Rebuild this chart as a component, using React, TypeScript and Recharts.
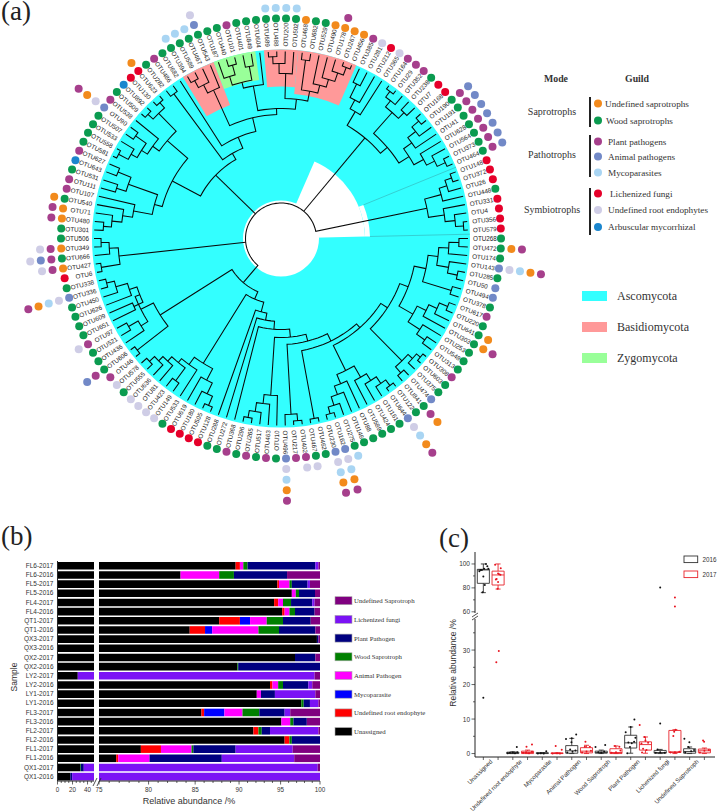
import React from 'react';
import {
  BarChart,
  Bar,
  Pie,
  PieChart,
  Scatter,
  ScatterChart,
  XAxis,
  YAxis,
} from 'recharts';

const SANS = '"Liberation Sans", Arial, sans-serif';
const SERIF = '"Liberation Serif", "Times New Roman", serif';

/* ---------- panel (a): leaves, clockwise from the 3 o'clock position ---------- */
const otuNumbers = [
  268, 472, 174, 143, 285, 50, 494, 378, 617, 220,
  641, 303, 253, 548, 313, 308, 603, 375, 474, 841,
  122, 644, 161, 424, 589, 88, 146, 275, 162, 230,
  462, 467, 402, 217, 496, 10, 463, 517, 265, 296,
  368, 272, 288, 128, 505, 180, 619, 533, 149, 423,
  81, 636, 555, 578, 46, 606, 436, 521, 97, 651,
  609, 626, 450, 336, 338, 6, 427, 666, 349, 506,
  301, 480, 71, 540, 107, 111, 531, 643, 627, 581,
  558, 533, 507, 90, 538, 509, 892, 130, 623, 282,
  486, 682, 394, 589, 467, 543, 187, 440, 101, 401,
  849, 604, 689, 488, 200, 502, 468, 682, 529, 490,
  178, 267, 456, 385, 281, 212, 365, 164, 29, 352,
  238, 7, 168, 190, 191, 41, 628, 564, 373, 464,
  148, 372, 26, 448, 331, 4, 356, 579,
];

// guild rings per leaf, inner to outer
const leafGuilds = [
  'g', 'gop', 'g', 'aumop', 'g', 'a', 'a', 'g', 'p', 'g',
  'go', 'gop', 'g', 'g', 'g', 'p', 'g', 'g', 'a', 'gpo',
  'g', 'aumop', 'g', 'g', 'g', 'g', 'g', 'gm', 'aumop', 'aumop',
  'g', 'gu', 'pu', 'p', 'aumop', 'g', 'p', 'g', 'p', 'g',
  'p', 'g', 'g', 'l', 'l', 'l', 'l', 'g', 'u', 'u',
  'u', 'u', 'g', 'u', 'p', 'gpa', 'g', 'g', 'pu', 'g',
  'g', 'g', 'g', 'aumop', 'g', 'l', 'opu', 'gpau', 'opu', 'g',
  'g', 'op', 'op', 'go', 'p', 'p', 'g', 'b', 'p', 'g',
  'g', 'g', 'g', 'auop', 'p', 'g', 'b', 'l', 'lo', 'g',
  'p', 'g', 'gm', 'gm', 'gm', 'gau', 'g', 'g', 'p', 'g',
  'g', 'g', 'gm', 'gm', 'gm', 'gm', 'o', 'g', 'g', 'o',
  'op', 'o', 'o', 'p', 'u', 'l', 'u', 'p', 'p', 'p',
  'g', 'l', 'l', 'gpa', 'gpa', 'gpa', 'gpa', 'gpa', 'gpa', 'gpa',
  'l', 'l', 'l', 'g', 'l', 'l', 'l', 'l',
];

const guildColors: Record<string, string> = {
  o: '#F28A1C',
  g: '#0B9B50',
  p: '#A63F8C',
  a: '#7289C7',
  m: '#A9D5F3',
  l: '#E6002A',
  u: '#CFCDE6',
  b: '#1B86CE',
};

// tree: [node radius, ...children]; a number is a leaf index
const lichenClade = [149,
  [166, [174, [181, 130, 131], 132], 133],
  [165, 134, [175, 135, [183, 136, 137]]],
];
const upperRightClade = [131,
  [147, [157, [172, 113, 114], 115], 116],
  [140,
    [168, [176, [183, 117, 118], 119], [176, 120, 121]],
    [152, [162, [172, [181, 122, 123], 124], 125], [163, 126, [172, 127, [181, 128, 129]]]],
  ],
];
const pinkA = [163, [172, [180, 92, 93], 94], 95];
const greenClade = [161, [170, 96, [180, 97, 98]], [175, 99, 100]];
const pinkB = [165, [175, [182, 102, 103], 104], 105];
const pinkC = [150, [180, 106, 107], [158, 108, [166, 109, [175, 110, [183, 111, 112]]]]];
const topClade = [124, pinkA, [130, [155, greenClade, 101], [140, pinkB, pinkC]]];
const upperLeftClade = [91,
  [123,
    [150,
      [175, [182, 87, 88], [182, 85, 86]],
      [158, 84, [165, [178, 82, 83], [172, 81, [183, 79, 80]]]],
    ],
    [131,
      [162, [176, 77, 78], [172, 76, 75]],
      [150, 74, [160, 73, [170, 72, [178, 71, 70]]]],
    ],
  ],
  [98, [180, 89, 90], [110, 91, topClade]],
];
const leftClade = [163, [172, [180, 69, 68], 67], [182, 66, 65]];
const lowerLeftClade = [143,
  [157,
    [152, [162, 59, 60], [160, [172, [180, 64, 63], 62], 61]],
    [165, [176, 57, 58], 56],
  ],
  [182, 54, 55],
];
const bottomLeftClade = [147,
  [160, [172, [182, 43, 44], 45], 46],
  [156, 47, [161, [177, 48, 49], [167, 50, [173, 51, [180, 52, 53]]]]],
];
const rightClade = [136,
  [152, [162, [171, [180, 8, 9], 10], 11], [166, 12, [176, 13, 14]]],
  [148,
    [158, [168, [178, 0, 1], 2], [170, 3, [180, 4, 5]]],
    [178, 6, 7],
  ],
];
const backbone = [66, bottomLeftClade,
  [76, 42,
    [83, 41,
      [91, 40,
        [99, [157, 35, [166, 36, [175, 37, [182, 38, 39]]]],
          [106, [176, [183, 32, 33], 34],
            [114, [183, 30, 31],
              [119,
                [147, [160, [168, [176, [183, 20, 21], 22], 23], 24], [157, 25, [166, 26, [175, 27, [182, 28, 29]]]]],
                [127,
                  [172, [178, [183, 15, 16], 17], [180, 18, 19]],
                  rightClade,
                ],
              ],
            ],
          ],
        ],
      ],
    ],
  ],
];
const treeRoot = [35.5, lichenClade, upperRightClade, upperLeftClade, leftClade, [58, lowerLeftClade, backbone]];

// coloured wedges, as leaf ranges with the radius they start at
const pinkWedges = [
  { first: 92, last: 95, inner: 143 },
  { first: 102, last: 105, inner: 152 },
  { first: 106, last: 112, inner: 145 },
];
const greenWedges = [{ first: 96, last: 100, inner: 160 }];
const whiteWedges = [
  { first: 113, last: 137, inner: 0, outer: 84 },
  { first: 130, last: 137, inner: 84, outer: 89 },
];

const CX = 281;
const CY = 238.5;
const STEP = 360 / otuNumbers.length;
const LEAF_R = 187;
const angleOf = (i: number) => 360 - i * STEP;
const toXY = (a: number, r: number) => ({
  x: r * Math.cos((a * Math.PI) / 180),
  y: r * Math.sin((a * Math.PI) / 180),
});

const treeLines: { x: number; y: number }[][] = [];
function walk(node: any): { a: number; r: number } {
  if (typeof node === 'number') return { a: angleOf(node), r: LEAF_R };
  const [r, ...kids] = node;
  const placed = kids.map(walk);
  const first = placed[0];
  const last = placed[placed.length - 1];
  const pts = [toXY(first.a, first.r)];
  const n = Math.max(1, Math.ceil(Math.abs(last.a - first.a) / 3));
  for (let k = 0; k <= n; k++) pts.push(toXY(first.a + ((last.a - first.a) * k) / n, r));
  pts.push(toXY(last.a, last.r));
  treeLines.push(pts);
  placed.slice(1, -1).forEach((c: any) => treeLines.push([toXY(c.a, r), toXY(c.a, c.r)]));
  return { a: (first.a + last.a) / 2, r };
}
walk(treeRoot);

const cladeBorders = [
  [toXY(angleOf(129.5), 89), toXY(angleOf(129.5), 189)],
  [toXY(angleOf(137.5), 89), toXY(angleOf(137.5), 189)],
];

const labelData = otuNumbers.map((n, i) => {
  const a = angleOf(i);
  return { ...toXY(a, 192), a, name: 'OTU' + n };
});

const guildPoints = Object.keys(guildColors).map((g) => {
  const data: { x: number; y: number }[] = [];
  leafGuilds.forEach((rings, i) => {
    rings.split('').forEach((c, k) => {
      if (c === g) data.push(toXY(angleOf(i), 220 + k * 10.6));
    });
  });
  return { g, data };
});

const noDot = () => <g />;

function LeafLabel(p: any) {
  const a = p.payload.a;
  const right = Math.cos((a * Math.PI) / 180) > 0;
  return (
    <text
      x={p.cx}
      y={p.cy}
      fontSize={6.3}
      fontFamily={SANS}
      fill="#222"
      dominantBaseline="central"
      textAnchor={right ? 'start' : 'end'}
      transform={`rotate(${right ? -a : 180 - a} ${p.cx} ${p.cy})`}
    >
      {p.payload.name}
    </text>
  );
}

function wedgePie(key: string, w: any, fill: string) {
  return (
    <Pie
      key={key}
      data={[{ value: 1, fill }]}
      dataKey="value"
      cx={CX}
      cy={CY}
      innerRadius={w.inner}
      outerRadius={w.outer ?? 189}
      startAngle={angleOf(w.last) - STEP / 2}
      endAngle={angleOf(w.first) + STEP / 2}
      fill={fill}
      stroke="none"
      isAnimationActive={false}
    />
  );
}

function TreePanel() {
  return (
    <>
      <div style={{ position: 'absolute', left: 0, top: 0 }}>
        <PieChart width={720} height={510} margin={{ top: 0, right: 0, bottom: 0, left: 0 }}>
          <Pie
            data={[{ value: 1, fill: '#33FFFF' }]}
            dataKey="value"
            cx={CX}
            cy={CY}
            innerRadius={38}
            outerRadius={189}
            startAngle={0}
            endAngle={360}
            fill="#33FFFF"
            stroke="none"
            isAnimationActive={false}
          />
          {whiteWedges.map((w, i) => wedgePie('w' + i, w, '#FFFFFF'))}
          {pinkWedges.map((w, i) => wedgePie('p' + i, w, '#FF9999'))}
          {greenWedges.map((w, i) => wedgePie('g' + i, w, '#99FF99'))}
        </PieChart>
      </div>
      <div style={{ position: 'absolute', left: 0, top: 0 }}>
        <ScatterChart width={720} height={510} margin={{ top: 0, right: 0, bottom: 0, left: 0 }}>
          <XAxis type="number" dataKey="x" domain={[-CX, 720 - CX]} hide allowDataOverflow />
          <YAxis type="number" dataKey="y" domain={[CY - 510, CY]} hide allowDataOverflow />
          {cladeBorders.map((pts, i) => (
            <Scatter key={'b' + i} data={pts} shape={noDot} line={{ stroke: '#35AEB4', strokeWidth: 0.6 }} isAnimationActive={false} />
          ))}
          {treeLines.map((pts, i) => (
            <Scatter key={'t' + i} data={pts} shape={noDot} line={{ stroke: '#0A0A0A', strokeWidth: 1.05 }} isAnimationActive={false} />
          ))}
          <Scatter data={labelData} shape={LeafLabel} isAnimationActive={false} />
          {guildPoints.map(({ g, data }) => (
            <Scatter
              key={g}
              data={data}
              isAnimationActive={false}
              shape={(p: any) => <circle cx={p.cx} cy={p.cy} r={4} fill={guildColors[g]} />}
            />
          ))}
        </ScatterChart>
      </div>
    </>
  );
}

/* ---------- panel (b) ---------- */
const samples = [
  'FL6-2017', 'FL6-2016', 'FL5-2017', 'FL5-2016', 'FL4-2017', 'FL4-2016', 'QT1-2017', 'QT1-2016',
  'QX3-2017', 'QX3-2016', 'QX2-2017', 'QX2-2016', 'LY2-2017', 'LY2-2016', 'LY1-2017', 'LY1-2016',
  'FL3-2017', 'FL3-2016', 'FL2-2017', 'FL2-2016', 'FL1-2017', 'FL1-2016', 'QX1-2017', 'QX1-2016',
];
const unassigned = [89.6, 83.4, 94.6, 96.4, 94.2, 95.2, 87.7, 84.4, 99.6, 100, 96.8, 89.8, 27, 93.7, 92.1, 97.6, 85.7, 95.1, 91.7, 95.5, 79.2, 76.7, 30, 17];
const rootEndophyte = [0.5, 0, 0.2, 0, 0.5, 0.3, 2.4, 1.7, 0, 0, 0, 0, 0, 0.3, 0, 0, 0.3, 0, 0.6, 0.6, 2.1, 0.2, 0, 0];
const mycoparasite = [0, 0, 0, 0, 0, 0, 1.2, 0.8, 0, 0, 0, 0, 0, 0, 0, 0, 2.3, 0, 0, 0, 0, 0, 0, 0];
const animalPathogen = [0.4, 4.3, 1.3, 0.5, 0.6, 0.6, 2, 5.4, 0, 0, 0, 0, 0, 0.7, 0.5, 0, 2.1, 1.1, 0, 0, 3.3, 3.2, 0, 0];
const woodSaprotroph = [0.5, 1.7, 0.3, 0.4, 1, 0.7, 2, 2.5, 0, 0, 0, 0.1, 0, 0.6, 0, 0.3, 2, 0.4, 0.4, 0.3, 0.2, 0, 1, 0];
const plantPathogen = [8.4, 6.4, 2, 2.05, 2.7, 2.5, 3.5, 4.6, 0.2, 0, 2.6, 10.1, 0, 3.2, 1.7, 0.8, 3.1, 1.7, 1, 3.6, 4.8, 7.9, 4, 2.5];
const lichenizedFungi = [0.4, 0, 0.3, 0, 0.3, 0, 0, 0, 0, 0, 0, 0, 72.3, 0.5, 5.1, 1.1, 0.7, 0, 6.1, 0, 6.9, 8.7, 64.7, 80.5];
const undefinedSaprotroph = [0.2, 4.2, 1.3, 0.65, 0.7, 0.7, 1.2, 0.6, 0.2, 0, 0.6, 0, 0.7, 1, 0.6, 0.2, 3.8, 1.7, 0.2, 0, 3.5, 3.3, 0.3, 0];

const barSeries = [
  { name: 'Unassigned', values: unassigned, fill: '#000000' },
  { name: 'Undefined root endophyte', values: rootEndophyte, fill: '#FF0000' },
  { name: 'Mycoparasite', values: mycoparasite, fill: '#0000FF' },
  { name: 'Animal Pathogen', values: animalPathogen, fill: '#FF00FF' },
  { name: 'Wood Saprotroph', values: woodSaprotroph, fill: '#008000' },
  { name: 'Plant Pathogen', values: plantPathogen, fill: '#000080' },
  { name: 'Lichenized fungi', values: lichenizedFungi, fill: '#7B12F5' },
  { name: 'Undefined Saprotroph', values: undefinedSaprotroph, fill: '#800080' },
];

const BREAK_LOW = 49;
const BREAK_HIGH = 75;
const barRows = samples.map((sample, i) => {
  const row: any = { sample };
  let sum = 0;
  barSeries.forEach((s, k) => {
    const next = k === barSeries.length - 1 && s.values[i] > 0 ? 100 : sum + s.values[i];
    row['low' + k] = [Math.min(sum, BREAK_LOW), Math.min(next, BREAK_LOW)];
    row['high' + k] = [Math.max(sum, BREAK_HIGH), Math.max(Math.min(next, 100), BREAK_HIGH)];
    sum = next;
  });
  return row;
});

const lowTicks = [0, 5, 10, 15, 20, 25, 30, 35, 40, 45];
const highTicks = [75, 76, 77, 78, 79, 80, 81, 82, 83, 84, 85, 86, 87, 88, 89, 90, 91, 92, 93, 94, 95, 96, 97, 98, 99, 100];

const BAR_H = 7.6;

const xTick = (labelled: number[], size: number) => (p: any) => {
  const on = labelled.includes(p.payload.value);
  return (
    <g>
      <line x1={p.x} x2={p.x} y1={p.y} y2={p.y + (on ? 3.5 : 2)} stroke="#222" strokeWidth={0.7} />
      {on && (
        <text x={p.x} y={p.y + 11} textAnchor="middle" fontSize={size} fontFamily={SANS} fill="#333">
          {p.payload.value}
        </text>
      )}
    </g>
  );
};

function BarsPanel() {
  return (
    <>
      <div style={{ position: 'absolute', left: 10, top: 560.7 }}>
        <BarChart
          layout="vertical"
          data={barRows}
          width={84.3}
          height={240}
          barCategoryGap={0}
          barGap={-BAR_H}
          margin={{ top: 0, right: 0, bottom: 0, left: 0 }}
        >
          <XAxis type="number" domain={[0, BREAK_LOW]} ticks={lowTicks} interval={0} height={20} tickLine={false} tickSize={0} tickMargin={0} tick={xTick([0, 20, 40], 6.3)} stroke="#222" />
          <YAxis type="category" dataKey="sample" width={47.5} interval={0} tickLine={false} tickSize={2} tick={{ fontSize: 6.5, fill: '#333', fontFamily: SANS }} stroke="#222" />
          {barSeries.map((s, k) => (
            <Bar key={s.name} dataKey={'low' + k} fill={s.fill} barSize={BAR_H} isAnimationActive={false} />
          ))}
        </BarChart>
      </div>
      <div style={{ position: 'absolute', left: 87, top: 560.7 }}>
        <BarChart
          layout="vertical"
          data={barRows}
          width={245}
          height={240}
          barCategoryGap={0}
          barGap={-BAR_H}
          margin={{ top: 0, right: 12, bottom: 0, left: 12 }}
        >
          <XAxis type="number" scale="log" domain={[BREAK_HIGH, 100]} allowDataOverflow ticks={highTicks} interval={0} height={20} tickLine={false} tickSize={0} tickMargin={0} tick={xTick([75, 80, 85, 90, 95, 100], 6.3)} stroke="#222" />
          <YAxis type="category" dataKey="sample" hide />
          {barSeries.map((s, k) => (
            <Bar key={s.name} dataKey={'high' + k} fill={s.fill} barSize={BAR_H} isAnimationActive={false} />
          ))}
        </BarChart>
      </div>
    </>
  );
}

/* ---------- panel (c) ---------- */
const boxCategories = [
  'Unassigned', 'Undefined root endophyte', 'Mycoparasite', 'Animal Pathogen',
  'Wood Saprotroph', 'Plant Pathogen', 'Lichenized fungi', 'Undefined Saprotroph',
];
// one entry per box: 2016 and 2017 alternate; the first two sit above the axis break
const boxLow = [76, 79, 0, 0, 0, 0, 0, 0, 0, 0, 0.1, 0.1, 0, 0, 0, 0];
const boxQ1 = [83.8, 82.4, 0, 0, 0, 0, 0.1, 0.2, 0.1, 0, 1.6, 1, 0.1, 0.3, 0.1, 0.2];
const boxMedian = [95, 90.8, 0.2, 0.3, 0.1, 0.05, 0.8, 0.7, 0.3, 0.3, 3.1, 2.6, 0.3, 0.5, 0.6, 0.8];
const boxQ3 = [95.5, 94, 0.4, 0.7, 0.25, 0.2, 2.3, 1.7, 0.7, 1.4, 5.3, 3.4, 0.9, 6.7, 1.4, 1.3];
const boxHigh = [100, 100, 0.5, 1, 0.3, 0.2, 4.4, 2.4, 1, 2.2, 7.7, 4.8, 1.2, 6.9, 1.9, 1.6];

// [box, horizontal jitter, value]
const upperPoints: number[][] = [
  [0, 0.18, 100], [0, -0.1, 95], [0, -0.27, 94], [0, 0.34, 96], [0, 0, 89.5], [0, 0.1, 82.5], [0, -0.05, 76.4], [0, 0.27, 98], [0, -0.2, 95], [0, 0.05, 96],
  [1, -0.2, 99.3], [1, 0.18, 96.5], [1, 0, 92], [1, -0.1, 87.5], [1, 0, 85], [1, 0.16, 91], [1, 0.07, 91.5], [1, -0.15, 87], [1, -0.03, 79.3],
  [12, 0, 80.4], [13, 0, 72], [13, 0, 64.5],
];
const lowerPoints: number[][] = [
  [0, 0, 16.2], [1, 0.05, 29.7], [1, -0.12, 26.5],
  [2, -0.35, 0.1], [2, -0.2, 0.2], [2, 0, 0.3], [2, 0.15, 0.1], [2, 0.3, 0.4], [2, 0.27, 1.9],
  [3, -0.3, 0.2], [3, -0.1, 0.4], [3, 0.1, 0.1], [3, 0.3, 0.5], [3, -0.07, 2], [3, 0.3, 2.6],
  [4, -0.3, 0.05], [4, -0.1, 0.1], [4, 0.1, 0.05], [4, 0.27, 0.7],
  [5, -0.3, 0.05], [5, 0, 0.1], [5, 0.2, 0.05], [5, -0.09, 2.2], [5, 0.32, 1.1],
  [6, -0.39, 4.2], [6, 0.3, 5.5], [6, 0, 4.4], [6, -0.02, 3.3], [6, -0.11, 1.2], [6, -0.3, 0.3], [6, 0.05, 0.5], [6, 0.25, 0.9],
  [7, -0.07, 3.4], [7, -0.11, 2], [7, 0.23, 2], [7, -0.3, 0.3], [7, 0, 0.6], [7, 0.3, 0.8],
  [8, -0.39, 1.9], [8, 0.27, 2.5], [8, -0.2, 0.4], [8, 0, 0.2], [8, 0.2, 0.6],
  [9, -0.07, 2.2], [9, 0.23, 2], [9, -0.3, 0.2], [9, 0, 0.4], [9, 0.3, 0.9],
  [10, -0.34, 6.2], [10, 0.25, 9.9], [10, 0, 7.7], [10, 0.32, 4.6], [10, -0.16, 3.2], [10, 0.07, 3], [10, -0.05, 1.9], [10, 0.23, 3.4], [10, -0.23, 0.1],
  [11, -0.39, 8.3], [11, -0.05, 4.8], [11, -0.27, 2.9], [11, 0.18, 3.1], [11, 0, 3.8], [11, -0.16, 1.4], [11, 0.07, 1], [11, -0.23, 0.3],
  [12, 0, 8.7], [12, -0.18, 1.2], [12, -0.3, 0.2], [12, 0, 0.4], [12, 0.3, 0.2],
  [13, 0.05, 6.9], [13, -0.05, 6.3], [13, -0.11, 5.1], [13, -0.3, 0.3], [13, 0, 0.4], [13, 0.3, 0.5],
  [14, -0.36, 4.3], [14, -0.02, 3.3], [14, -0.09, 1.9], [14, -0.3, 0.3], [14, 0.1, 0.7], [14, 0.3, 1],
  [15, -0.09, 3.8], [15, -0.02, 3.4], [15, -0.3, 0.3], [15, 0, 0.8], [15, 0.3, 1],
];

const BOX_BLACK = '#333333';
const BOX_RED = '#E8242B';
const boxColor = (i: number) => (i % 2 === 0 ? BOX_BLACK : BOX_RED);
const HALF = 0.41;
const CAP = 0.17;

function boxLines(i: number) {
  const lo = boxQ1[i];
  const hi = boxQ3[i];
  return [
    [{ x: i - HALF, y: lo }, { x: i + HALF, y: lo }, { x: i + HALF, y: hi }, { x: i - HALF, y: hi }, { x: i - HALF, y: lo }],
    [{ x: i - HALF, y: boxMedian[i] }, { x: i + HALF, y: boxMedian[i] }],
    [{ x: i - CAP, y: boxLow[i] }, { x: i + CAP, y: boxLow[i] }],
    [{ x: i, y: boxLow[i] }, { x: i, y: lo }],
    [{ x: i, y: hi }, { x: i, y: boxHigh[i] }],
    [{ x: i - CAP, y: boxHigh[i] }, { x: i + CAP, y: boxHigh[i] }],
  ];
}

const yTick = (labelled: number[]) => (p: any) => {
  const on = labelled.includes(p.payload.value);
  return (
    <g>
      <line x1={p.x} x2={p.x - (on ? 3.5 : 2)} y1={p.y} y2={p.y} stroke="#222" strokeWidth={0.7} />
      {on && (
        <text x={p.x - 5} y={p.y} textAnchor="end" dominantBaseline="central" fontSize={6.5} fontFamily={SANS} fill="#333">
          {p.payload.value}
        </text>
      )}
    </g>
  );
};

function categoryTick(p: any) {
  const v = p.payload.value;
  const label = v % 2 === 0 ? boxCategories[v / 2] : null;
  const tx = p.x + 9.5;
  const ty = p.y + 5;
  return (
    <g>
      <line x1={p.x} x2={p.x} y1={p.y} y2={p.y + 3} stroke="#222" strokeWidth={0.7} />
      {label && (
        <text x={tx} y={ty} textAnchor="end" fontSize={6.1} fontFamily={SANS} fill="#333" transform={`rotate(-45 ${tx} ${ty})`}>
          {label}
        </text>
      )}
    </g>
  );
}

const boxTicks = [0, 1, 2, 3, 4, 5, 6, 7, 8, 9, 10, 11, 12, 13, 14, 15];
const X_DOMAIN = [-0.566, 15.72];

function pointSeries(points: number[][], keyName: string) {
  return [0, 1].map((year) => (
    <Scatter
      key={keyName + year}
      data={points.filter((p) => p[0] % 2 === year).map((p) => ({ x: p[0] + p[1], y: p[2] }))}
      isAnimationActive={false}
      shape={(s: any) => <circle cx={s.cx} cy={s.cy} r={1} fill={year === 0 ? '#111' : '#E8141F'} />}
    />
  ));
}

function boxSeries(indexes: number[]) {
  return indexes.flatMap((i) =>
    boxLines(i).map((pts, k) => (
      <Scatter key={i + '-' + k} data={pts} shape={noDot} line={{ stroke: boxColor(i), strokeWidth: 0.9 }} isAnimationActive={false} />
    )),
  );
}

function BoxPanel() {
  return (
    <>
      <div style={{ position: 'absolute', left: 455, top: 552 }}>
        <ScatterChart width={260} height={71} margin={{ top: 0, right: 0, bottom: 10, left: 0 }}>
          <XAxis type="number" dataKey="x" domain={X_DOMAIN} hide allowDataOverflow />
          <YAxis type="number" dataKey="y" domain={[59, 110]} ticks={[60, 70, 80, 90, 100]} interval={0} width={20} tickLine={false} tickSize={0} tickMargin={0} tick={yTick([60, 80, 100])} stroke="#222" allowDataOverflow />
          {boxSeries([0, 1])}
          {pointSeries(upperPoints, 'u')}
        </ScatterChart>
      </div>
      <div style={{ position: 'absolute', left: 455, top: 618.7 }}>
        <ScatterChart width={260} height={192} margin={{ top: 0, right: 0, bottom: 0, left: 0 }}>
          <XAxis type="number" dataKey="x" domain={X_DOMAIN} ticks={boxTicks} interval={0} height={54} tickLine={false} tickSize={0} tickMargin={0} tick={categoryTick} stroke="#222" allowDataOverflow />
          <YAxis type="number" dataKey="y" domain={[-1, 39]} ticks={[0, 5, 10, 15, 20, 25, 30, 35]} interval={0} width={20} tickLine={false} tickSize={0} tickMargin={0} tick={yTick([0, 10, 20, 30])} stroke="#222" allowDataOverflow />
          {boxSeries([2, 3, 4, 5, 6, 7, 8, 9, 10, 11, 12, 13, 14, 15])}
          {pointSeries(lowerPoints, 'l')}
        </ScatterChart>
      </div>
    </>
  );
}

/* ---------- legends and panel letters ---------- */
const guildLegend = [
  { label: 'Undefined saprotrophs', g: 'o', y: 103.5, tx: 605 },
  { label: 'Wood saprotrophs', g: 'g', y: 120.5, tx: 606 },
  { label: 'Plant pathogens', g: 'p', y: 141.5, tx: 608 },
  { label: 'Animal pathogens', g: 'a', y: 156.5, tx: 608 },
  { label: 'Mycoparasites', g: 'm', y: 172.5, tx: 608 },
  { label: 'Lichenized fungi', g: 'l', y: 193.5, tx: 610 },
  { label: 'Undefined root endophytes', g: 'u', y: 210, tx: 608 },
  { label: 'Arbuscular mycorrhizal', g: 'b', y: 227, tx: 608 },
];
const modeLegend = [
  { label: 'Saprotrophs', y: 111, y1: 97, y2: 127 },
  { label: 'Pathotrophs', y: 154, y1: 135, y2: 177 },
  { label: 'Symbiotrophs', y: 209, y1: 188, y2: 235 },
];
const phylumLegend = [
  { label: 'Ascomycota', fill: '#33FFFF', y: 296 },
  { label: 'Basidiomycota', fill: '#FF9999', y: 327 },
  { label: 'Zygomycota', fill: '#99FF99', y: 358 },
];

function Overlay() {
  return (
    <svg width={720} height={811} style={{ position: 'absolute', left: 0, top: 0 }}>
      <g fontFamily={SERIF} fontSize={27} fill="#222">
        <text x={1} y={20}>(a)</text>
        <text x={1} y={545}>(b)</text>
        <text x={439} y={547}>(c)</text>
      </g>

      <g fontFamily={SERIF} fill="#333">
        <text x={556} y={78} fontSize={9.8} fontWeight="bold" textAnchor="middle" dominantBaseline="central">Mode</text>
        <text x={637} y={78} fontSize={9.8} fontWeight="bold" textAnchor="middle" dominantBaseline="central">Guild</text>
        {modeLegend.map((m) => (
          <g key={m.label}>
            <text x={552} y={m.y} fontSize={10} textAnchor="middle" dominantBaseline="central">{m.label}</text>
            <line x1={590} x2={590} y1={m.y1} y2={m.y2} stroke="#222" strokeWidth={2} />
          </g>
        ))}
        {guildLegend.map((l) => (
          <g key={l.label}>
            <circle cx={598} cy={l.y} r={4} fill={guildColors[l.g]} />
            <text x={l.tx} y={l.y} fontSize={9.2} dominantBaseline="central">{l.label}</text>
          </g>
        ))}
        {phylumLegend.map((l) => (
          <g key={l.label}>
            <rect x={582} y={l.y - 5} width={25} height={10} fill={l.fill} />
            <text x={617} y={l.y} fontSize={12} dominantBaseline="central">{l.label}</text>
          </g>
        ))}
      </g>

      {/* panel (b) furniture */}
      <text x={14} y={677} fontSize={8.5} fontFamily={SANS} fill="#333" textAnchor="middle" dominantBaseline="central" transform="rotate(-90 14 677)">Sample</text>
      <text x={189} y={801} fontSize={9} fontFamily={SANS} fill="#333" textAnchor="middle" dominantBaseline="central">Relative abundance /%</text>
      <line x1={93} x2={97} y1={786} y2={778} stroke="#222" strokeWidth={0.8} />
      <line x1={97} x2={101} y1={786} y2={778} stroke="#222" strokeWidth={0.8} />
      {[...barSeries].reverse().map((s, i) => (
        <g key={s.name}>
          <rect x={335} y={600.7 + i * 18.7 - 4} width={17} height={8} fill={s.fill} stroke="#aaa" strokeWidth={0.6} />
          <text x={354} y={600.7 + i * 18.7} fontSize={6.8} fontFamily={SERIF} fill="#333" dominantBaseline="central">{s.name}</text>
        </g>
      ))}

      {/* panel (c) furniture */}
      <text x={453} y={663} fontSize={8.5} fontFamily={SANS} fill="#333" textAnchor="middle" dominantBaseline="central" transform="rotate(-90 453 663)">Relative abundance /%</text>
      <line x1={472} x2={478} y1={617} y2={613} stroke="#222" strokeWidth={0.8} />
      <line x1={472} x2={478} y1={620} y2={616} stroke="#222" strokeWidth={0.8} />
      <rect x={684} y={556} width={13.7} height={6.6} fill="none" stroke={BOX_BLACK} strokeWidth={0.9} />
      <rect x={684} y={571} width={13.7} height={6.6} fill="none" stroke={BOX_RED} strokeWidth={0.9} />
      <text x={702.5} y={559.5} fontSize={6.3} fontFamily={SANS} fill="#333" dominantBaseline="central">2016</text>
      <text x={702.5} y={574.5} fontSize={6.3} fontFamily={SANS} fill="#333" dominantBaseline="central">2017</text>
    </svg>
  );
}

export default function App() {
  return (
    <div style={{ position: 'absolute', left: 0, top: 0, width: 720, height: 811, background: '#fff', overflow: 'hidden' }}>
      <TreePanel />
      <BarsPanel />
      <BoxPanel />
      <Overlay />
    </div>
  );
}
